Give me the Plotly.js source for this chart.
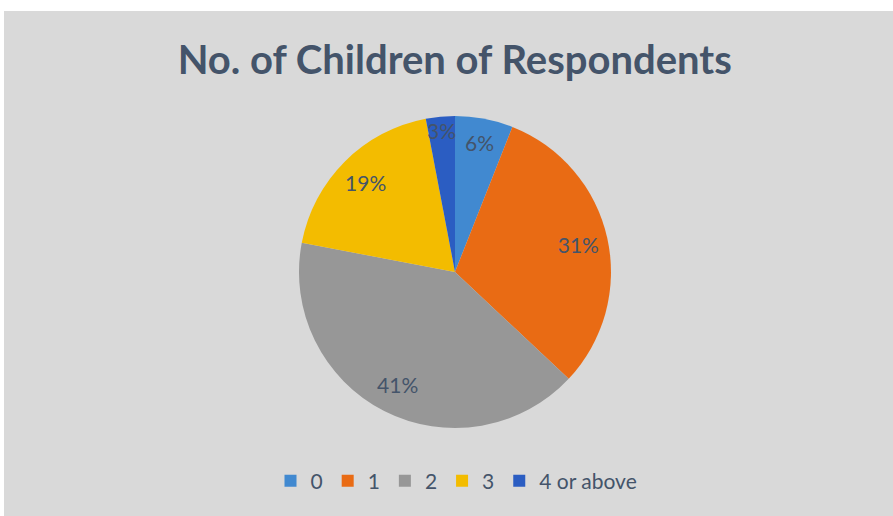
<!DOCTYPE html>
<html>
<head>
<meta charset="utf-8">
<script src="https://cdn.plot.ly/plotly-3.0.1.min.js"></script>
<style>
  html, body { margin: 0; padding: 0; background: #ffffff; width: 893px; height: 516px; overflow: hidden; }
  #chart { position: absolute; left: 4px; top: 11px; width: 889px; height: 505px; }
</style>
</head>
<body>
<div id="chart"></div>
<script>
const categories = ["0", "1", "2", "3", "4 or above"];
const percentages = [6, 31, 41, 19, 3];
const sliceColors = ["#4189d0", "#e96b14", "#979797", "#f3bc00", "#2b5dc2"];

const pieDomain = { x: [0.3318, 0.6828], y: [0.1743, 0.7921] };

// Filled pie (slices + legend)
const pieTrace = {
  type: "pie",
  labels: categories,
  values: percentages,
  sort: false,
  direction: "clockwise",
  rotation: 0,
  marker: { colors: sliceColors, line: { width: 0 } },
  textinfo: "none",
  hoverinfo: "label+percent",
  domain: pieDomain
};

// Transparent ring on top, carrying the data labels near the outer edge
const labelTrace = {
  type: "pie",
  labels: categories,
  values: percentages,
  sort: false,
  direction: "clockwise",
  rotation: 0,
  hole: 0.62,
  showlegend: false,
  marker: { colors: categories.map(() => "rgba(0,0,0,0)"), line: { width: 0 } },
  texttemplate: "%{value}%",
  textposition: "inside",
  insidetextorientation: "horizontal",
  textfont: { family: "Lato, sans-serif", size: 21, color: "#44546a" },
  hoverinfo: "skip",
  domain: pieDomain
};

const layout = {
  width: 889,
  height: 505,
  paper_bgcolor: "#d9d9d9",
  plot_bgcolor: "#d9d9d9",
  margin: { l: 0, r: 0, t: 0, b: 0 },
  title: {
    text: "<b>No. of Children of Respondents</b>",
    font: { family: "Lato, sans-serif", size: 40, color: "#44546a" },
    x: 0.507, xanchor: "center",
    y: 0.903, yanchor: "middle",
    xref: "paper", yref: "paper"
  },
  uniformtext: { mode: "show", minsize: 21 },
  showlegend: true,
  legend: {
    orientation: "h",
    x: 0.509, xanchor: "center",
    y: 0.069, yanchor: "middle",
    font: { family: "Lato, sans-serif", size: 21, color: "#44546a" },
    bgcolor: "rgba(0,0,0,0)",
    traceorder: "normal"
  }
};

Plotly.newPlot("chart", [pieTrace, labelTrace], layout, { displayModeBar: false, staticPlot: true });
</script>
</body>
</html>
